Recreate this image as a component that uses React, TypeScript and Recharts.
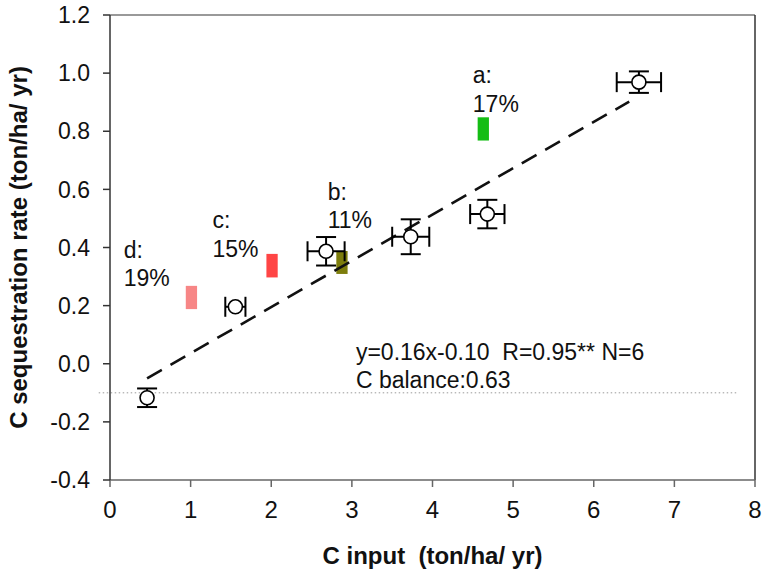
import { ComposedChart, Scatter, XAxis, YAxis, ErrorBar, ReferenceLine, ReferenceArea } from 'recharts'

// measured points with error bars
const inputX = [0.46, 1.555, 2.68, 3.73, 4.68, 6.56]
const rateY = [-0.117, 0.196, 0.387, 0.437, 0.515, 0.969]
const errX = [0, 0.125, 0.23, 0.23, 0.213, 0.275]
const errY = [0.032, 0, 0.049, 0.06, 0.049, 0.037]

// small coloured markers (a-d)
const barX = [4.63, 2.877, 2.01, 1.01]
const barLow = [0.768, 0.309, 0.297, 0.188]
const barHigh = [0.848, 0.388, 0.378, 0.268]
const barColors = ['#14bd14', '#7d7d0c', '#ff4545', '#f78686']
const BAR_HALF = 0.07

// annotation text (left x, first baseline y in data units)
const labelTop = ['a:', 'b:', 'c:', 'd:']
const labelBottom = ['17%', '11%', '15%', '19%']
const labelX = [4.5, 2.7, 1.27, 0.17]
const labelY = [0.966, 0.565, 0.466, 0.365]

const eqLines = ['y=0.16x-0.10  R=0.95** N=6', 'C balance:0.63']
const eqX = 3.05
const eqY = 0.013

// drawn regression line ends
const fitX = [0.46, 6.44]
const fitY = [-0.05, 0.902]

const xTicks = [0, 1, 2, 3, 4, 5, 6, 7, 8]
const yTicks = [-0.4, -0.2, 0, 0.2, 0.4, 0.6, 0.8, 1.0, 1.2]
const X_MAX = 8
const Y_MIN = -0.4
const Y_MAX = 1.2

const FONT = '"Liberation Sans", Arial, sans-serif'

const points = inputX.map((x, i) => ({ x, y: rateY[i], ex: errX[i], ey: errY[i] }))
const notes = labelTop
  .map((t, i) => ({ x: labelX[i], y: labelY[i], lines: [t, labelBottom[i]] }))
  .concat([{ x: eqX, y: eqY, lines: eqLines }])

const Dot = (p: any) => (
  <circle cx={p.cx} cy={p.cy} r={7} fill="#fff" stroke="#000" strokeWidth={1.6} />
)

const Note = (p: any) => (
  <g>
    {p.payload.lines.map((s: string, i: number) => (
      <text key={i} x={p.cx} y={p.cy + i * 28.5} fontSize={23} fontFamily={FONT} fill="#111"
        style={{ whiteSpace: 'pre' }}>
        {s}
      </text>
    ))}
  </g>
)

const YTitle = (p: any) => {
  const vb = p.viewBox
  const cx = vb.x + 18
  const cy = vb.y + vb.height / 2
  return (
    <text x={cx} y={cy} transform={`rotate(-90 ${cx} ${cy})`} textAnchor="middle" dominantBaseline="central"
      fontSize={24} fontWeight="bold" fontFamily={FONT} fill="#111">
      C sequestration rate (ton/ha/ yr)
    </text>
  )
}

const XTitle = (p: any) => {
  const vb = p.viewBox
  return (
    <text x={vb.x + vb.width / 2} y={vb.y + 75} textAnchor="middle" dominantBaseline="central"
      fontSize={24} fontWeight="bold" fontFamily={FONT} fill="#111" style={{ whiteSpace: 'pre' }}>
      C input  (ton/ha/ yr)
    </text>
  )
}

export default function App() {
  return (
    <div style={{ position: 'absolute', left: 0, top: 0, background: '#fff' }}>
      <ComposedChart width={768} height={580} margin={{ top: 15, right: 13, bottom: 0, left: 0 }}>
        <XAxis type="number" dataKey="x" domain={[0, X_MAX]} ticks={xTicks} allowDataOverflow
          height={100} tickSize={7} tickMargin={14} stroke="#666" strokeWidth={1.5}
          tick={{ fontSize: 24, fontFamily: FONT, fill: '#111' }} label={<XTitle />} />
        <YAxis type="number" dataKey="y" domain={[Y_MIN, Y_MAX]} ticks={yTicks} allowDataOverflow
          width={110} tickSize={7} tickMargin={13} stroke="#333" strokeWidth={1.5}
          tickFormatter={(v: number) => v.toFixed(1)}
          tick={{ fontSize: 23, fontFamily: FONT, fill: '#111' }} label={<YTitle />} />

        {/* top and right frame */}
        <ReferenceLine segment={[{ x: 0, y: Y_MAX }, { x: X_MAX, y: Y_MAX }]} ifOverflow="visible"
          stroke="#777" strokeWidth={1.5} />
        <ReferenceLine segment={[{ x: X_MAX, y: Y_MIN }, { x: X_MAX, y: Y_MAX }]} ifOverflow="visible"
          stroke="#333" strokeWidth={1.5} />

        <ReferenceLine segment={[{ x: -0.14, y: -0.1 }, { x: 7.78, y: -0.1 }]} ifOverflow="visible"
          stroke="#999" strokeWidth={1} strokeDasharray="1.5 2.5" />
        <ReferenceLine segment={[{ x: fitX[0], y: fitY[0] }, { x: fitX[1], y: fitY[1] }]}
          stroke="#111" strokeWidth={2.6} strokeDasharray="17 10" />

        {barX.map((bx, i) => (
          <ReferenceArea key={i} x1={bx - BAR_HALF} x2={bx + BAR_HALF} y1={barLow[i]} y2={barHigh[i]}
            fill={barColors[i]} fillOpacity={1} stroke="none" />
        ))}

        <Scatter data={points} shape={<Dot />} isAnimationActive={false}>
          <ErrorBar dataKey="ex" direction="x" width={10} stroke="#000" strokeWidth={2} />
          <ErrorBar dataKey="ey" direction="y" width={10} stroke="#000" strokeWidth={2} />
        </Scatter>
        <Scatter data={notes} shape={<Note />} isAnimationActive={false} />
      </ComposedChart>
    </div>
  )
}
